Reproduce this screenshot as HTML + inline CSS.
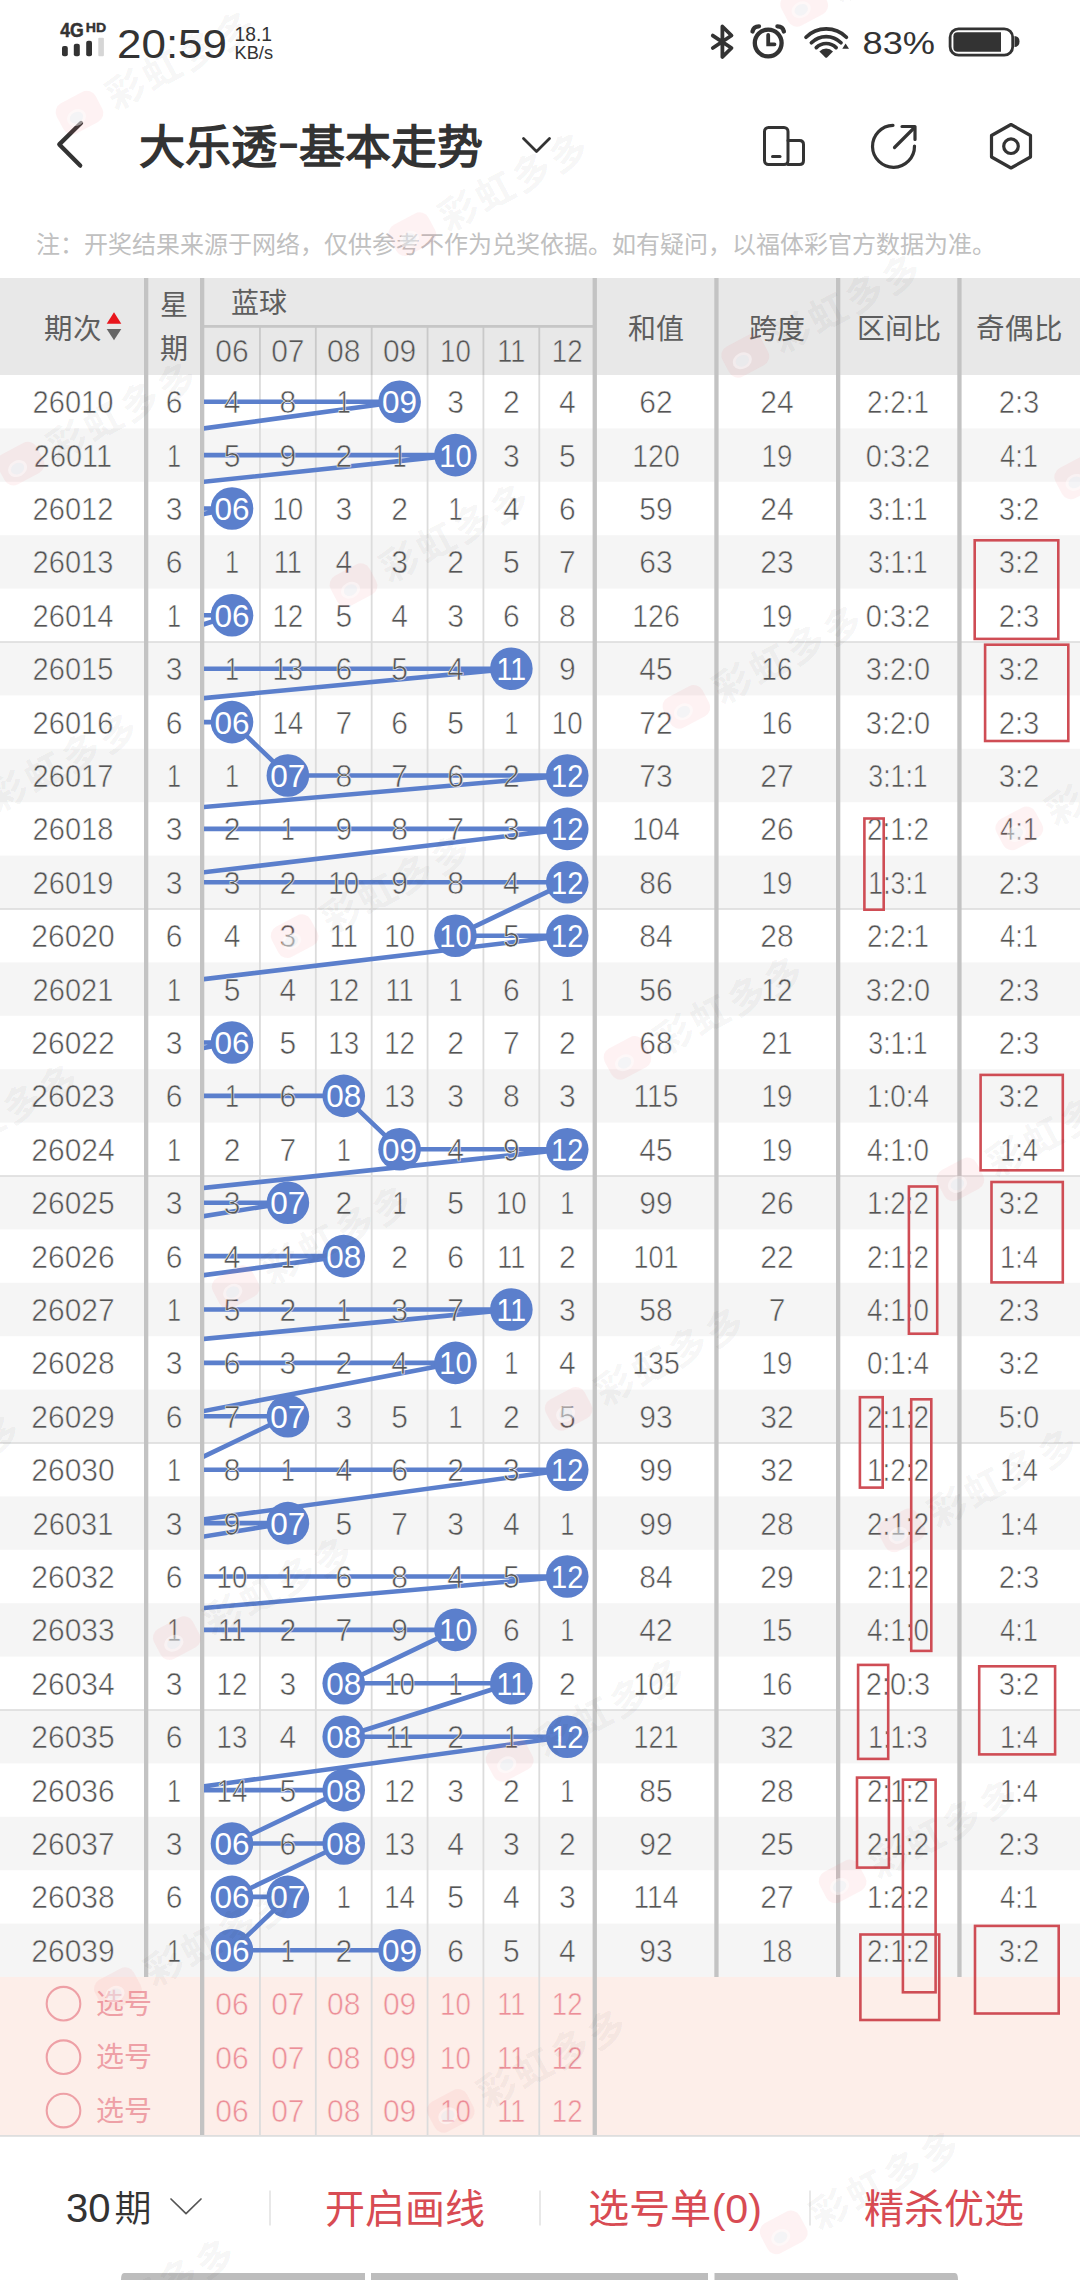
<!DOCTYPE html><html lang="zh-CN"><head><meta charset="utf-8"><title>大乐透-基本走势</title>
<style>html,body{margin:0;padding:0;background:#fff;width:1080px;height:2280px;overflow:hidden}svg{display:block} text{font-family:'Liberation Sans', sans-serif}</style></head><body>
<svg width="1080" height="2280" viewBox="0 0 1080 2280">
<defs><clipPath id="bc"><rect x="204" y="375" width="389" height="1602"/></clipPath></defs>
<g fill="#333">
<text x="60.3" y="36.5" font-size="20" font-weight="bold" textLength="23.5" lengthAdjust="spacingAndGlyphs" stroke="#333" stroke-width="0.5">4G</text>
<text x="85.8" y="31.6" font-size="13" font-weight="bold" textLength="20.4" lengthAdjust="spacingAndGlyphs" stroke="#333" stroke-width="0.4">HD</text>
<rect x="62" y="46" width="5.8" height="10.2" rx="2"/>
<rect x="73.8" y="43.7" width="6" height="12.5" rx="2"/>
<rect x="86.2" y="40.8" width="5.8" height="15.4" rx="2"/>
<rect x="98.3" y="37.7" width="5.6" height="18.6" rx="1" fill="#d6d6d6"/>
<text x="117" y="58.2" font-size="40.5" fill="#333" textLength="110" lengthAdjust="spacingAndGlyphs">20:59</text>
<text x="234.5" y="40.8" font-size="20" textLength="37.5" lengthAdjust="spacingAndGlyphs">18.1</text>
<text x="234.5" y="59.4" font-size="18.7" textLength="38.5" lengthAdjust="spacingAndGlyphs">KB/s</text>
<text x="862.5" y="54" font-size="31.5" textLength="72.5" lengthAdjust="spacingAndGlyphs">83%</text>
</g>
<path d="M712.8,35.6 L731.5,48 L722.4,57 L722.4,26.5 L731.5,35.5 L712.8,48" fill="none" stroke="#333" stroke-width="3.8" stroke-linejoin="round" stroke-linecap="round"/>
<g fill="none" stroke="#333" stroke-width="4.3" stroke-linecap="round"><circle cx="768.2" cy="43" r="13.4"/><path d="M768.2,35 L768.2,44.3 L774.5,44.3" stroke-width="3.8"/><path d="M752.5,31.5 Q753.5,26.3 759,26.3"/><path d="M783.9,31.5 Q782.9,26.3 777.4,26.3"/></g>
<g fill="none" stroke="#333" stroke-width="3.7" stroke-linecap="round"><path d="M806,37.3 A28.6,28.6 0 0 1 846.4,37.3"/><path d="M811.4,42.7 A21,21 0 0 1 841,42.7"/><path d="M816.3,47.6 A14,14 0 0 1 836.1,47.6"/></g><path d="M819.4,51.4 A9.4,9.4 0 0 1 833,51.4 L827.3,57.3 Q826.2,58.4 825.1,57.3 Z" fill="#333"/><path d="M842.3,48.8 L849,48.8 L845.6,43.6 Z" fill="#333"/>
<rect x="950.1" y="28.8" width="62.6" height="26.4" rx="8.5" fill="none" stroke="#333" stroke-width="2.8"/><path d="M957.5,32.2 L1001,32.2 L1001,51.8 L957.5,51.8 Q953.4,51.8 953.4,47.7 L953.4,36.3 Q953.4,32.2 957.5,32.2 Z" fill="#333"/><path d="M1014.5,36 Q1019.5,36.5 1019.5,41.5 Q1019.5,46.5 1014.5,47 Z" fill="#333"/>
<path d="M81,123 L59.3,144.4 L80.2,165.6" fill="none" stroke="#333" stroke-width="4.3" stroke-linecap="round" stroke-linejoin="round"/>
<g font-size="46" font-weight="bold" fill="#333" style="font-family:'Liberation Sans', 'Noto Sans CJK SC', sans-serif">
<text x="139" y="163">大乐透</text>
<text x="278.9" y="157.9" textLength="19" lengthAdjust="spacingAndGlyphs">–</text>
<text x="299" y="163">基本走势</text>
</g>
<path d="M523.5,138.5 L536.5,151.5 L549.5,138.5" fill="none" stroke="#333" stroke-width="2.8" stroke-linecap="round" stroke-linejoin="round"/>
<g fill="none" stroke="#333" stroke-width="3" stroke-linejoin="round" stroke-linecap="round"><rect x="764.5" y="127.5" width="23.5" height="37" rx="4"/><path d="M788,140.5 L799.5,140.5 Q803.5,140.5 803.5,144.5 L803.5,160.5 Q803.5,164.5 799.5,164.5 L788,164.5"/><path d="M772.5,156.5 L780,156.5"/></g>
<g fill="none" stroke="#333" stroke-width="3.2" stroke-linecap="round" stroke-linejoin="round"><path d="M914.5,146 A21,21 0 1 1 893,125.3"/><path d="M894.5,147.5 L914,128"/><path d="M902,126.5 L915,126.5 L915,139.5"/></g>
<g fill="none" stroke="#333" stroke-width="3.2" stroke-linejoin="round"><path d="M1011,124.5 L1030.5,135.5 L1030.5,157 L1011,168 L991.5,157 L991.5,135.5 Z"/><circle cx="1011" cy="146.2" r="7.3"/></g>
<text x="36" y="253" font-size="24" fill="#c0c0c0" style="font-family:'Liberation Sans', 'Noto Sans CJK SC', sans-serif">注：开奖结果来源于网络，仅供参考不作为兑奖依据。如有疑问，以福体彩官方数据为准。</text>
<rect x="0" y="278" width="1080" height="97" fill="#e8e8e8"/>
<rect x="0" y="428.4" width="1080" height="53.4" fill="#f5f5f5"/>
<rect x="0" y="535.2" width="1080" height="53.4" fill="#f5f5f5"/>
<rect x="0" y="642" width="1080" height="53.4" fill="#f5f5f5"/>
<rect x="0" y="748.8" width="1080" height="53.4" fill="#f5f5f5"/>
<rect x="0" y="855.6" width="1080" height="53.4" fill="#f5f5f5"/>
<rect x="0" y="962.4" width="1080" height="53.4" fill="#f5f5f5"/>
<rect x="0" y="1069.2" width="1080" height="53.4" fill="#f5f5f5"/>
<rect x="0" y="1176" width="1080" height="53.4" fill="#f5f5f5"/>
<rect x="0" y="1282.8" width="1080" height="53.4" fill="#f5f5f5"/>
<rect x="0" y="1389.6" width="1080" height="53.4" fill="#f5f5f5"/>
<rect x="0" y="1496.4" width="1080" height="53.4" fill="#f5f5f5"/>
<rect x="0" y="1603.2" width="1080" height="53.4" fill="#f5f5f5"/>
<rect x="0" y="1710" width="1080" height="53.4" fill="#f5f5f5"/>
<rect x="0" y="1816.8" width="1080" height="53.4" fill="#f5f5f5"/>
<rect x="0" y="1923.6" width="1080" height="53.4" fill="#f5f5f5"/>
<rect x="0" y="1977" width="1080" height="158" fill="#fdeee9"/>
<rect x="0" y="2135" width="1080" height="1.8" fill="#dedede"/>
<rect x="0" y="641.2" width="1080" height="1.6" fill="#dcdcdc"/>
<rect x="0" y="908.2" width="1080" height="1.6" fill="#dcdcdc"/>
<rect x="0" y="1175.2" width="1080" height="1.6" fill="#dcdcdc"/>
<rect x="0" y="1442.2" width="1080" height="1.6" fill="#dcdcdc"/>
<rect x="0" y="1709.2" width="1080" height="1.6" fill="#dcdcdc"/>
<rect x="259.04" y="326" width="1.8" height="49" fill="#c9c9c9"/>
<rect x="259.04" y="375" width="1.8" height="1760" fill="#dcdcdc"/>
<rect x="314.91" y="326" width="1.8" height="49" fill="#c9c9c9"/>
<rect x="314.91" y="375" width="1.8" height="1760" fill="#dcdcdc"/>
<rect x="370.78" y="326" width="1.8" height="49" fill="#c9c9c9"/>
<rect x="370.78" y="375" width="1.8" height="1760" fill="#dcdcdc"/>
<rect x="426.65" y="326" width="1.8" height="49" fill="#c9c9c9"/>
<rect x="426.65" y="375" width="1.8" height="1760" fill="#dcdcdc"/>
<rect x="482.52" y="326" width="1.8" height="49" fill="#c9c9c9"/>
<rect x="482.52" y="375" width="1.8" height="1760" fill="#dcdcdc"/>
<rect x="538.38" y="326" width="1.8" height="49" fill="#c9c9c9"/>
<rect x="538.38" y="375" width="1.8" height="1760" fill="#dcdcdc"/>
<rect x="204" y="325" width="389" height="2.8" fill="#c6c6c6"/>
<rect x="144" y="278" width="4.3" height="1699" fill="#c3c3c3"/>
<rect x="200" y="278" width="4.3" height="1857" fill="#c3c3c3"/>
<rect x="592.6" y="278" width="4.3" height="1857" fill="#c3c3c3"/>
<rect x="714.3" y="278" width="4.3" height="1699" fill="#c3c3c3"/>
<rect x="836" y="278" width="4.3" height="1699" fill="#c3c3c3"/>
<rect x="957.3" y="278" width="4.3" height="1699" fill="#c3c3c3"/>
<g fill="#5e5e5e" font-size="28" style="font-family:'Liberation Sans', 'Noto Sans CJK SC', sans-serif">
<text x="44" y="338.5" font-size="28.5">期次</text>
<text x="160" y="315.3">星</text>
<text x="159.5" y="359.3">期</text>
<text x="231" y="313">蓝球</text>
<text x="655.5" y="339" text-anchor="middle">和值</text>
<text x="777" y="339" text-anchor="middle">跨度</text>
<text x="898.5" y="339" text-anchor="middle">区间比</text>
<text x="1019" y="339" text-anchor="middle" font-size="28.5">奇偶比</text>
</g>
<path d="M114,312.3 L121.3,323.7 L106.7,323.7 Z" fill="#e8151c"/>
<path d="M106.7,329.1 L121.3,329.1 L114,340.3 Z" fill="#666"/>
<g fill="#555555" font-size="32" text-anchor="middle" stroke="#e8e8e8" stroke-width="0.6">
<text x="232" y="362.3" textLength="33.37" lengthAdjust="spacingAndGlyphs">06</text>
<text x="287.87" y="362.3" textLength="33.37" lengthAdjust="spacingAndGlyphs">07</text>
<text x="343.74" y="362.3" textLength="33.37" lengthAdjust="spacingAndGlyphs">08</text>
<text x="399.61" y="362.3" textLength="33.37" lengthAdjust="spacingAndGlyphs">09</text>
<text x="455.48" y="362.3" textLength="30.79" lengthAdjust="spacingAndGlyphs">10</text>
<text x="511.35" y="362.3" textLength="28.2" lengthAdjust="spacingAndGlyphs">11</text>
<text x="567.22" y="362.3" textLength="30.79" lengthAdjust="spacingAndGlyphs">12</text>
</g>
<g clip-path="url(#bc)"><polyline fill="none" stroke="#5b7fcc" stroke-width="4.6" stroke-linejoin="round" points="64.39,401.7 399.61,401.7 8.52,455.1 455.48,455.1 -47.35,508.5 232,508.5 -47.35,561.9 120.26,561.9 8.52,615.3 232,615.3 64.39,668.7 511.35,668.7 -47.35,722.1 232,722.1 287.87,775.5 567.22,775.5 -47.35,828.9 567.22,828.9 120.26,882.3 567.22,882.3 455.48,935.7 567.22,935.7 120.26,989.1 176.13,989.1 8.52,1042.5 232,1042.5 -47.35,1095.9 343.74,1095.9 399.61,1149.3 567.22,1149.3 64.39,1202.7 287.87,1202.7 -47.35,1256.1 343.74,1256.1 -47.35,1309.5 511.35,1309.5 -47.35,1362.9 455.48,1362.9 176.13,1416.3 287.87,1416.3 176.13,1469.7 567.22,1469.7 176.13,1523.1 287.87,1523.1 -47.35,1576.5 567.22,1576.5 -47.35,1629.9 455.48,1629.9 343.74,1683.3 511.35,1683.3 343.74,1736.7 567.22,1736.7 176.13,1790.1 343.74,1790.1 232,1843.5 343.74,1843.5 232,1896.9 287.87,1896.9 232,1950.3 399.61,1950.3"/></g>
<g fill="#555555" font-size="32" text-anchor="middle" stroke-width="0.6">
<g stroke="#ffffff">
<text x="73" y="413.1" textLength="80.84" lengthAdjust="spacingAndGlyphs">26010</text>
<text x="174" y="413.1" textLength="16.69" lengthAdjust="spacingAndGlyphs">6</text>
<text x="232" y="413.1" textLength="16.69" lengthAdjust="spacingAndGlyphs">4</text>
<text x="287.87" y="413.1" textLength="16.69" lengthAdjust="spacingAndGlyphs">8</text>
<text x="343.74" y="413.1" textLength="14.1" lengthAdjust="spacingAndGlyphs">1</text>
<text x="455.48" y="413.1" textLength="16.69" lengthAdjust="spacingAndGlyphs">3</text>
<text x="511.35" y="413.1" textLength="16.69" lengthAdjust="spacingAndGlyphs">2</text>
<text x="567.22" y="413.1" textLength="16.69" lengthAdjust="spacingAndGlyphs">4</text>
<text x="656" y="413.1" textLength="33.37" lengthAdjust="spacingAndGlyphs">62</text>
<text x="777" y="413.1" textLength="33.37" lengthAdjust="spacingAndGlyphs">24</text>
<text x="898" y="413.1" textLength="61.87" lengthAdjust="spacingAndGlyphs">2:2:1</text>
<text x="1019" y="413.1" textLength="40.57" lengthAdjust="spacingAndGlyphs">2:3</text>
</g>
<g stroke="#f5f5f5">
<text x="73" y="466.5" textLength="78.26" lengthAdjust="spacingAndGlyphs">26011</text>
<text x="174" y="466.5" textLength="14.1" lengthAdjust="spacingAndGlyphs">1</text>
<text x="232" y="466.5" textLength="16.69" lengthAdjust="spacingAndGlyphs">5</text>
<text x="287.87" y="466.5" textLength="16.69" lengthAdjust="spacingAndGlyphs">9</text>
<text x="343.74" y="466.5" textLength="16.69" lengthAdjust="spacingAndGlyphs">2</text>
<text x="399.61" y="466.5" textLength="14.1" lengthAdjust="spacingAndGlyphs">1</text>
<text x="511.35" y="466.5" textLength="16.69" lengthAdjust="spacingAndGlyphs">3</text>
<text x="567.22" y="466.5" textLength="16.69" lengthAdjust="spacingAndGlyphs">5</text>
<text x="656" y="466.5" textLength="47.47" lengthAdjust="spacingAndGlyphs">120</text>
<text x="777" y="466.5" textLength="30.79" lengthAdjust="spacingAndGlyphs">19</text>
<text x="898" y="466.5" textLength="64.46" lengthAdjust="spacingAndGlyphs">0:3:2</text>
<text x="1019" y="466.5" textLength="37.99" lengthAdjust="spacingAndGlyphs">4:1</text>
</g>
<g stroke="#ffffff">
<text x="73" y="519.9" textLength="80.84" lengthAdjust="spacingAndGlyphs">26012</text>
<text x="174" y="519.9" textLength="16.69" lengthAdjust="spacingAndGlyphs">3</text>
<text x="287.87" y="519.9" textLength="30.79" lengthAdjust="spacingAndGlyphs">10</text>
<text x="343.74" y="519.9" textLength="16.69" lengthAdjust="spacingAndGlyphs">3</text>
<text x="399.61" y="519.9" textLength="16.69" lengthAdjust="spacingAndGlyphs">2</text>
<text x="455.48" y="519.9" textLength="14.1" lengthAdjust="spacingAndGlyphs">1</text>
<text x="511.35" y="519.9" textLength="16.69" lengthAdjust="spacingAndGlyphs">4</text>
<text x="567.22" y="519.9" textLength="16.69" lengthAdjust="spacingAndGlyphs">6</text>
<text x="656" y="519.9" textLength="33.37" lengthAdjust="spacingAndGlyphs">59</text>
<text x="777" y="519.9" textLength="33.37" lengthAdjust="spacingAndGlyphs">24</text>
<text x="898" y="519.9" textLength="59.29" lengthAdjust="spacingAndGlyphs">3:1:1</text>
<text x="1019" y="519.9" textLength="40.57" lengthAdjust="spacingAndGlyphs">3:2</text>
</g>
<g stroke="#f5f5f5">
<text x="73" y="573.3" textLength="80.84" lengthAdjust="spacingAndGlyphs">26013</text>
<text x="174" y="573.3" textLength="16.69" lengthAdjust="spacingAndGlyphs">6</text>
<text x="232" y="573.3" textLength="14.1" lengthAdjust="spacingAndGlyphs">1</text>
<text x="287.87" y="573.3" textLength="28.2" lengthAdjust="spacingAndGlyphs">11</text>
<text x="343.74" y="573.3" textLength="16.69" lengthAdjust="spacingAndGlyphs">4</text>
<text x="399.61" y="573.3" textLength="16.69" lengthAdjust="spacingAndGlyphs">3</text>
<text x="455.48" y="573.3" textLength="16.69" lengthAdjust="spacingAndGlyphs">2</text>
<text x="511.35" y="573.3" textLength="16.69" lengthAdjust="spacingAndGlyphs">5</text>
<text x="567.22" y="573.3" textLength="16.69" lengthAdjust="spacingAndGlyphs">7</text>
<text x="656" y="573.3" textLength="33.37" lengthAdjust="spacingAndGlyphs">63</text>
<text x="777" y="573.3" textLength="33.37" lengthAdjust="spacingAndGlyphs">23</text>
<text x="898" y="573.3" textLength="59.29" lengthAdjust="spacingAndGlyphs">3:1:1</text>
<text x="1019" y="573.3" textLength="40.57" lengthAdjust="spacingAndGlyphs">3:2</text>
</g>
<g stroke="#ffffff">
<text x="73" y="626.7" textLength="80.84" lengthAdjust="spacingAndGlyphs">26014</text>
<text x="174" y="626.7" textLength="14.1" lengthAdjust="spacingAndGlyphs">1</text>
<text x="287.87" y="626.7" textLength="30.79" lengthAdjust="spacingAndGlyphs">12</text>
<text x="343.74" y="626.7" textLength="16.69" lengthAdjust="spacingAndGlyphs">5</text>
<text x="399.61" y="626.7" textLength="16.69" lengthAdjust="spacingAndGlyphs">4</text>
<text x="455.48" y="626.7" textLength="16.69" lengthAdjust="spacingAndGlyphs">3</text>
<text x="511.35" y="626.7" textLength="16.69" lengthAdjust="spacingAndGlyphs">6</text>
<text x="567.22" y="626.7" textLength="16.69" lengthAdjust="spacingAndGlyphs">8</text>
<text x="656" y="626.7" textLength="47.47" lengthAdjust="spacingAndGlyphs">126</text>
<text x="777" y="626.7" textLength="30.79" lengthAdjust="spacingAndGlyphs">19</text>
<text x="898" y="626.7" textLength="64.46" lengthAdjust="spacingAndGlyphs">0:3:2</text>
<text x="1019" y="626.7" textLength="40.57" lengthAdjust="spacingAndGlyphs">2:3</text>
</g>
<g stroke="#f5f5f5">
<text x="73" y="680.1" textLength="80.84" lengthAdjust="spacingAndGlyphs">26015</text>
<text x="174" y="680.1" textLength="16.69" lengthAdjust="spacingAndGlyphs">3</text>
<text x="232" y="680.1" textLength="14.1" lengthAdjust="spacingAndGlyphs">1</text>
<text x="287.87" y="680.1" textLength="30.79" lengthAdjust="spacingAndGlyphs">13</text>
<text x="343.74" y="680.1" textLength="16.69" lengthAdjust="spacingAndGlyphs">6</text>
<text x="399.61" y="680.1" textLength="16.69" lengthAdjust="spacingAndGlyphs">5</text>
<text x="455.48" y="680.1" textLength="16.69" lengthAdjust="spacingAndGlyphs">4</text>
<text x="567.22" y="680.1" textLength="16.69" lengthAdjust="spacingAndGlyphs">9</text>
<text x="656" y="680.1" textLength="33.37" lengthAdjust="spacingAndGlyphs">45</text>
<text x="777" y="680.1" textLength="30.79" lengthAdjust="spacingAndGlyphs">16</text>
<text x="898" y="680.1" textLength="64.46" lengthAdjust="spacingAndGlyphs">3:2:0</text>
<text x="1019" y="680.1" textLength="40.57" lengthAdjust="spacingAndGlyphs">3:2</text>
</g>
<g stroke="#ffffff">
<text x="73" y="733.5" textLength="80.84" lengthAdjust="spacingAndGlyphs">26016</text>
<text x="174" y="733.5" textLength="16.69" lengthAdjust="spacingAndGlyphs">6</text>
<text x="287.87" y="733.5" textLength="30.79" lengthAdjust="spacingAndGlyphs">14</text>
<text x="343.74" y="733.5" textLength="16.69" lengthAdjust="spacingAndGlyphs">7</text>
<text x="399.61" y="733.5" textLength="16.69" lengthAdjust="spacingAndGlyphs">6</text>
<text x="455.48" y="733.5" textLength="16.69" lengthAdjust="spacingAndGlyphs">5</text>
<text x="511.35" y="733.5" textLength="14.1" lengthAdjust="spacingAndGlyphs">1</text>
<text x="567.22" y="733.5" textLength="30.79" lengthAdjust="spacingAndGlyphs">10</text>
<text x="656" y="733.5" textLength="33.37" lengthAdjust="spacingAndGlyphs">72</text>
<text x="777" y="733.5" textLength="30.79" lengthAdjust="spacingAndGlyphs">16</text>
<text x="898" y="733.5" textLength="64.46" lengthAdjust="spacingAndGlyphs">3:2:0</text>
<text x="1019" y="733.5" textLength="40.57" lengthAdjust="spacingAndGlyphs">2:3</text>
</g>
<g stroke="#f5f5f5">
<text x="73" y="786.9" textLength="80.84" lengthAdjust="spacingAndGlyphs">26017</text>
<text x="174" y="786.9" textLength="14.1" lengthAdjust="spacingAndGlyphs">1</text>
<text x="232" y="786.9" textLength="14.1" lengthAdjust="spacingAndGlyphs">1</text>
<text x="343.74" y="786.9" textLength="16.69" lengthAdjust="spacingAndGlyphs">8</text>
<text x="399.61" y="786.9" textLength="16.69" lengthAdjust="spacingAndGlyphs">7</text>
<text x="455.48" y="786.9" textLength="16.69" lengthAdjust="spacingAndGlyphs">6</text>
<text x="511.35" y="786.9" textLength="16.69" lengthAdjust="spacingAndGlyphs">2</text>
<text x="656" y="786.9" textLength="33.37" lengthAdjust="spacingAndGlyphs">73</text>
<text x="777" y="786.9" textLength="33.37" lengthAdjust="spacingAndGlyphs">27</text>
<text x="898" y="786.9" textLength="59.29" lengthAdjust="spacingAndGlyphs">3:1:1</text>
<text x="1019" y="786.9" textLength="40.57" lengthAdjust="spacingAndGlyphs">3:2</text>
</g>
<g stroke="#ffffff">
<text x="73" y="840.3" textLength="80.84" lengthAdjust="spacingAndGlyphs">26018</text>
<text x="174" y="840.3" textLength="16.69" lengthAdjust="spacingAndGlyphs">3</text>
<text x="232" y="840.3" textLength="16.69" lengthAdjust="spacingAndGlyphs">2</text>
<text x="287.87" y="840.3" textLength="14.1" lengthAdjust="spacingAndGlyphs">1</text>
<text x="343.74" y="840.3" textLength="16.69" lengthAdjust="spacingAndGlyphs">9</text>
<text x="399.61" y="840.3" textLength="16.69" lengthAdjust="spacingAndGlyphs">8</text>
<text x="455.48" y="840.3" textLength="16.69" lengthAdjust="spacingAndGlyphs">7</text>
<text x="511.35" y="840.3" textLength="16.69" lengthAdjust="spacingAndGlyphs">3</text>
<text x="656" y="840.3" textLength="47.47" lengthAdjust="spacingAndGlyphs">104</text>
<text x="777" y="840.3" textLength="33.37" lengthAdjust="spacingAndGlyphs">26</text>
<text x="898" y="840.3" textLength="61.87" lengthAdjust="spacingAndGlyphs">2:1:2</text>
<text x="1019" y="840.3" textLength="37.99" lengthAdjust="spacingAndGlyphs">4:1</text>
</g>
<g stroke="#f5f5f5">
<text x="73" y="893.7" textLength="80.84" lengthAdjust="spacingAndGlyphs">26019</text>
<text x="174" y="893.7" textLength="16.69" lengthAdjust="spacingAndGlyphs">3</text>
<text x="232" y="893.7" textLength="16.69" lengthAdjust="spacingAndGlyphs">3</text>
<text x="287.87" y="893.7" textLength="16.69" lengthAdjust="spacingAndGlyphs">2</text>
<text x="343.74" y="893.7" textLength="30.79" lengthAdjust="spacingAndGlyphs">10</text>
<text x="399.61" y="893.7" textLength="16.69" lengthAdjust="spacingAndGlyphs">9</text>
<text x="455.48" y="893.7" textLength="16.69" lengthAdjust="spacingAndGlyphs">8</text>
<text x="511.35" y="893.7" textLength="16.69" lengthAdjust="spacingAndGlyphs">4</text>
<text x="656" y="893.7" textLength="33.37" lengthAdjust="spacingAndGlyphs">86</text>
<text x="777" y="893.7" textLength="30.79" lengthAdjust="spacingAndGlyphs">19</text>
<text x="898" y="893.7" textLength="59.29" lengthAdjust="spacingAndGlyphs">1:3:1</text>
<text x="1019" y="893.7" textLength="40.57" lengthAdjust="spacingAndGlyphs">2:3</text>
</g>
<g stroke="#ffffff">
<text x="73" y="947.1" textLength="83.43" lengthAdjust="spacingAndGlyphs">26020</text>
<text x="174" y="947.1" textLength="16.69" lengthAdjust="spacingAndGlyphs">6</text>
<text x="232" y="947.1" textLength="16.69" lengthAdjust="spacingAndGlyphs">4</text>
<text x="287.87" y="947.1" textLength="16.69" lengthAdjust="spacingAndGlyphs">3</text>
<text x="343.74" y="947.1" textLength="28.2" lengthAdjust="spacingAndGlyphs">11</text>
<text x="399.61" y="947.1" textLength="30.79" lengthAdjust="spacingAndGlyphs">10</text>
<text x="511.35" y="947.1" textLength="16.69" lengthAdjust="spacingAndGlyphs">5</text>
<text x="656" y="947.1" textLength="33.37" lengthAdjust="spacingAndGlyphs">84</text>
<text x="777" y="947.1" textLength="33.37" lengthAdjust="spacingAndGlyphs">28</text>
<text x="898" y="947.1" textLength="61.87" lengthAdjust="spacingAndGlyphs">2:2:1</text>
<text x="1019" y="947.1" textLength="37.99" lengthAdjust="spacingAndGlyphs">4:1</text>
</g>
<g stroke="#f5f5f5">
<text x="73" y="1000.5" textLength="80.84" lengthAdjust="spacingAndGlyphs">26021</text>
<text x="174" y="1000.5" textLength="14.1" lengthAdjust="spacingAndGlyphs">1</text>
<text x="232" y="1000.5" textLength="16.69" lengthAdjust="spacingAndGlyphs">5</text>
<text x="287.87" y="1000.5" textLength="16.69" lengthAdjust="spacingAndGlyphs">4</text>
<text x="343.74" y="1000.5" textLength="30.79" lengthAdjust="spacingAndGlyphs">12</text>
<text x="399.61" y="1000.5" textLength="28.2" lengthAdjust="spacingAndGlyphs">11</text>
<text x="455.48" y="1000.5" textLength="14.1" lengthAdjust="spacingAndGlyphs">1</text>
<text x="511.35" y="1000.5" textLength="16.69" lengthAdjust="spacingAndGlyphs">6</text>
<text x="567.22" y="1000.5" textLength="14.1" lengthAdjust="spacingAndGlyphs">1</text>
<text x="656" y="1000.5" textLength="33.37" lengthAdjust="spacingAndGlyphs">56</text>
<text x="777" y="1000.5" textLength="30.79" lengthAdjust="spacingAndGlyphs">12</text>
<text x="898" y="1000.5" textLength="64.46" lengthAdjust="spacingAndGlyphs">3:2:0</text>
<text x="1019" y="1000.5" textLength="40.57" lengthAdjust="spacingAndGlyphs">2:3</text>
</g>
<g stroke="#ffffff">
<text x="73" y="1053.9" textLength="83.43" lengthAdjust="spacingAndGlyphs">26022</text>
<text x="174" y="1053.9" textLength="16.69" lengthAdjust="spacingAndGlyphs">3</text>
<text x="287.87" y="1053.9" textLength="16.69" lengthAdjust="spacingAndGlyphs">5</text>
<text x="343.74" y="1053.9" textLength="30.79" lengthAdjust="spacingAndGlyphs">13</text>
<text x="399.61" y="1053.9" textLength="30.79" lengthAdjust="spacingAndGlyphs">12</text>
<text x="455.48" y="1053.9" textLength="16.69" lengthAdjust="spacingAndGlyphs">2</text>
<text x="511.35" y="1053.9" textLength="16.69" lengthAdjust="spacingAndGlyphs">7</text>
<text x="567.22" y="1053.9" textLength="16.69" lengthAdjust="spacingAndGlyphs">2</text>
<text x="656" y="1053.9" textLength="33.37" lengthAdjust="spacingAndGlyphs">68</text>
<text x="777" y="1053.9" textLength="30.79" lengthAdjust="spacingAndGlyphs">21</text>
<text x="898" y="1053.9" textLength="59.29" lengthAdjust="spacingAndGlyphs">3:1:1</text>
<text x="1019" y="1053.9" textLength="40.57" lengthAdjust="spacingAndGlyphs">2:3</text>
</g>
<g stroke="#f5f5f5">
<text x="73" y="1107.3" textLength="83.43" lengthAdjust="spacingAndGlyphs">26023</text>
<text x="174" y="1107.3" textLength="16.69" lengthAdjust="spacingAndGlyphs">6</text>
<text x="232" y="1107.3" textLength="14.1" lengthAdjust="spacingAndGlyphs">1</text>
<text x="287.87" y="1107.3" textLength="16.69" lengthAdjust="spacingAndGlyphs">6</text>
<text x="399.61" y="1107.3" textLength="30.79" lengthAdjust="spacingAndGlyphs">13</text>
<text x="455.48" y="1107.3" textLength="16.69" lengthAdjust="spacingAndGlyphs">3</text>
<text x="511.35" y="1107.3" textLength="16.69" lengthAdjust="spacingAndGlyphs">8</text>
<text x="567.22" y="1107.3" textLength="16.69" lengthAdjust="spacingAndGlyphs">3</text>
<text x="656" y="1107.3" textLength="44.89" lengthAdjust="spacingAndGlyphs">115</text>
<text x="777" y="1107.3" textLength="30.79" lengthAdjust="spacingAndGlyphs">19</text>
<text x="898" y="1107.3" textLength="61.87" lengthAdjust="spacingAndGlyphs">1:0:4</text>
<text x="1019" y="1107.3" textLength="40.57" lengthAdjust="spacingAndGlyphs">3:2</text>
</g>
<g stroke="#ffffff">
<text x="73" y="1160.7" textLength="83.43" lengthAdjust="spacingAndGlyphs">26024</text>
<text x="174" y="1160.7" textLength="14.1" lengthAdjust="spacingAndGlyphs">1</text>
<text x="232" y="1160.7" textLength="16.69" lengthAdjust="spacingAndGlyphs">2</text>
<text x="287.87" y="1160.7" textLength="16.69" lengthAdjust="spacingAndGlyphs">7</text>
<text x="343.74" y="1160.7" textLength="14.1" lengthAdjust="spacingAndGlyphs">1</text>
<text x="455.48" y="1160.7" textLength="16.69" lengthAdjust="spacingAndGlyphs">4</text>
<text x="511.35" y="1160.7" textLength="16.69" lengthAdjust="spacingAndGlyphs">9</text>
<text x="656" y="1160.7" textLength="33.37" lengthAdjust="spacingAndGlyphs">45</text>
<text x="777" y="1160.7" textLength="30.79" lengthAdjust="spacingAndGlyphs">19</text>
<text x="898" y="1160.7" textLength="61.87" lengthAdjust="spacingAndGlyphs">4:1:0</text>
<text x="1019" y="1160.7" textLength="37.99" lengthAdjust="spacingAndGlyphs">1:4</text>
</g>
<g stroke="#f5f5f5">
<text x="73" y="1214.1" textLength="83.43" lengthAdjust="spacingAndGlyphs">26025</text>
<text x="174" y="1214.1" textLength="16.69" lengthAdjust="spacingAndGlyphs">3</text>
<text x="232" y="1214.1" textLength="16.69" lengthAdjust="spacingAndGlyphs">3</text>
<text x="343.74" y="1214.1" textLength="16.69" lengthAdjust="spacingAndGlyphs">2</text>
<text x="399.61" y="1214.1" textLength="14.1" lengthAdjust="spacingAndGlyphs">1</text>
<text x="455.48" y="1214.1" textLength="16.69" lengthAdjust="spacingAndGlyphs">5</text>
<text x="511.35" y="1214.1" textLength="30.79" lengthAdjust="spacingAndGlyphs">10</text>
<text x="567.22" y="1214.1" textLength="14.1" lengthAdjust="spacingAndGlyphs">1</text>
<text x="656" y="1214.1" textLength="33.37" lengthAdjust="spacingAndGlyphs">99</text>
<text x="777" y="1214.1" textLength="33.37" lengthAdjust="spacingAndGlyphs">26</text>
<text x="898" y="1214.1" textLength="61.87" lengthAdjust="spacingAndGlyphs">1:2:2</text>
<text x="1019" y="1214.1" textLength="40.57" lengthAdjust="spacingAndGlyphs">3:2</text>
</g>
<g stroke="#ffffff">
<text x="73" y="1267.5" textLength="83.43" lengthAdjust="spacingAndGlyphs">26026</text>
<text x="174" y="1267.5" textLength="16.69" lengthAdjust="spacingAndGlyphs">6</text>
<text x="232" y="1267.5" textLength="16.69" lengthAdjust="spacingAndGlyphs">4</text>
<text x="287.87" y="1267.5" textLength="14.1" lengthAdjust="spacingAndGlyphs">1</text>
<text x="399.61" y="1267.5" textLength="16.69" lengthAdjust="spacingAndGlyphs">2</text>
<text x="455.48" y="1267.5" textLength="16.69" lengthAdjust="spacingAndGlyphs">6</text>
<text x="511.35" y="1267.5" textLength="28.2" lengthAdjust="spacingAndGlyphs">11</text>
<text x="567.22" y="1267.5" textLength="16.69" lengthAdjust="spacingAndGlyphs">2</text>
<text x="656" y="1267.5" textLength="44.89" lengthAdjust="spacingAndGlyphs">101</text>
<text x="777" y="1267.5" textLength="33.37" lengthAdjust="spacingAndGlyphs">22</text>
<text x="898" y="1267.5" textLength="61.87" lengthAdjust="spacingAndGlyphs">2:1:2</text>
<text x="1019" y="1267.5" textLength="37.99" lengthAdjust="spacingAndGlyphs">1:4</text>
</g>
<g stroke="#f5f5f5">
<text x="73" y="1320.9" textLength="83.43" lengthAdjust="spacingAndGlyphs">26027</text>
<text x="174" y="1320.9" textLength="14.1" lengthAdjust="spacingAndGlyphs">1</text>
<text x="232" y="1320.9" textLength="16.69" lengthAdjust="spacingAndGlyphs">5</text>
<text x="287.87" y="1320.9" textLength="16.69" lengthAdjust="spacingAndGlyphs">2</text>
<text x="343.74" y="1320.9" textLength="14.1" lengthAdjust="spacingAndGlyphs">1</text>
<text x="399.61" y="1320.9" textLength="16.69" lengthAdjust="spacingAndGlyphs">3</text>
<text x="455.48" y="1320.9" textLength="16.69" lengthAdjust="spacingAndGlyphs">7</text>
<text x="567.22" y="1320.9" textLength="16.69" lengthAdjust="spacingAndGlyphs">3</text>
<text x="656" y="1320.9" textLength="33.37" lengthAdjust="spacingAndGlyphs">58</text>
<text x="777" y="1320.9" textLength="16.69" lengthAdjust="spacingAndGlyphs">7</text>
<text x="898" y="1320.9" textLength="61.87" lengthAdjust="spacingAndGlyphs">4:1:0</text>
<text x="1019" y="1320.9" textLength="40.57" lengthAdjust="spacingAndGlyphs">2:3</text>
</g>
<g stroke="#ffffff">
<text x="73" y="1374.3" textLength="83.43" lengthAdjust="spacingAndGlyphs">26028</text>
<text x="174" y="1374.3" textLength="16.69" lengthAdjust="spacingAndGlyphs">3</text>
<text x="232" y="1374.3" textLength="16.69" lengthAdjust="spacingAndGlyphs">6</text>
<text x="287.87" y="1374.3" textLength="16.69" lengthAdjust="spacingAndGlyphs">3</text>
<text x="343.74" y="1374.3" textLength="16.69" lengthAdjust="spacingAndGlyphs">2</text>
<text x="399.61" y="1374.3" textLength="16.69" lengthAdjust="spacingAndGlyphs">4</text>
<text x="511.35" y="1374.3" textLength="14.1" lengthAdjust="spacingAndGlyphs">1</text>
<text x="567.22" y="1374.3" textLength="16.69" lengthAdjust="spacingAndGlyphs">4</text>
<text x="656" y="1374.3" textLength="47.47" lengthAdjust="spacingAndGlyphs">135</text>
<text x="777" y="1374.3" textLength="30.79" lengthAdjust="spacingAndGlyphs">19</text>
<text x="898" y="1374.3" textLength="61.87" lengthAdjust="spacingAndGlyphs">0:1:4</text>
<text x="1019" y="1374.3" textLength="40.57" lengthAdjust="spacingAndGlyphs">3:2</text>
</g>
<g stroke="#f5f5f5">
<text x="73" y="1427.7" textLength="83.43" lengthAdjust="spacingAndGlyphs">26029</text>
<text x="174" y="1427.7" textLength="16.69" lengthAdjust="spacingAndGlyphs">6</text>
<text x="232" y="1427.7" textLength="16.69" lengthAdjust="spacingAndGlyphs">7</text>
<text x="343.74" y="1427.7" textLength="16.69" lengthAdjust="spacingAndGlyphs">3</text>
<text x="399.61" y="1427.7" textLength="16.69" lengthAdjust="spacingAndGlyphs">5</text>
<text x="455.48" y="1427.7" textLength="14.1" lengthAdjust="spacingAndGlyphs">1</text>
<text x="511.35" y="1427.7" textLength="16.69" lengthAdjust="spacingAndGlyphs">2</text>
<text x="567.22" y="1427.7" textLength="16.69" lengthAdjust="spacingAndGlyphs">5</text>
<text x="656" y="1427.7" textLength="33.37" lengthAdjust="spacingAndGlyphs">93</text>
<text x="777" y="1427.7" textLength="33.37" lengthAdjust="spacingAndGlyphs">32</text>
<text x="898" y="1427.7" textLength="61.87" lengthAdjust="spacingAndGlyphs">2:1:2</text>
<text x="1019" y="1427.7" textLength="40.57" lengthAdjust="spacingAndGlyphs">5:0</text>
</g>
<g stroke="#ffffff">
<text x="73" y="1481.1" textLength="83.43" lengthAdjust="spacingAndGlyphs">26030</text>
<text x="174" y="1481.1" textLength="14.1" lengthAdjust="spacingAndGlyphs">1</text>
<text x="232" y="1481.1" textLength="16.69" lengthAdjust="spacingAndGlyphs">8</text>
<text x="287.87" y="1481.1" textLength="14.1" lengthAdjust="spacingAndGlyphs">1</text>
<text x="343.74" y="1481.1" textLength="16.69" lengthAdjust="spacingAndGlyphs">4</text>
<text x="399.61" y="1481.1" textLength="16.69" lengthAdjust="spacingAndGlyphs">6</text>
<text x="455.48" y="1481.1" textLength="16.69" lengthAdjust="spacingAndGlyphs">2</text>
<text x="511.35" y="1481.1" textLength="16.69" lengthAdjust="spacingAndGlyphs">3</text>
<text x="656" y="1481.1" textLength="33.37" lengthAdjust="spacingAndGlyphs">99</text>
<text x="777" y="1481.1" textLength="33.37" lengthAdjust="spacingAndGlyphs">32</text>
<text x="898" y="1481.1" textLength="61.87" lengthAdjust="spacingAndGlyphs">1:2:2</text>
<text x="1019" y="1481.1" textLength="37.99" lengthAdjust="spacingAndGlyphs">1:4</text>
</g>
<g stroke="#f5f5f5">
<text x="73" y="1534.5" textLength="80.84" lengthAdjust="spacingAndGlyphs">26031</text>
<text x="174" y="1534.5" textLength="16.69" lengthAdjust="spacingAndGlyphs">3</text>
<text x="232" y="1534.5" textLength="16.69" lengthAdjust="spacingAndGlyphs">9</text>
<text x="343.74" y="1534.5" textLength="16.69" lengthAdjust="spacingAndGlyphs">5</text>
<text x="399.61" y="1534.5" textLength="16.69" lengthAdjust="spacingAndGlyphs">7</text>
<text x="455.48" y="1534.5" textLength="16.69" lengthAdjust="spacingAndGlyphs">3</text>
<text x="511.35" y="1534.5" textLength="16.69" lengthAdjust="spacingAndGlyphs">4</text>
<text x="567.22" y="1534.5" textLength="14.1" lengthAdjust="spacingAndGlyphs">1</text>
<text x="656" y="1534.5" textLength="33.37" lengthAdjust="spacingAndGlyphs">99</text>
<text x="777" y="1534.5" textLength="33.37" lengthAdjust="spacingAndGlyphs">28</text>
<text x="898" y="1534.5" textLength="61.87" lengthAdjust="spacingAndGlyphs">2:1:2</text>
<text x="1019" y="1534.5" textLength="37.99" lengthAdjust="spacingAndGlyphs">1:4</text>
</g>
<g stroke="#ffffff">
<text x="73" y="1587.9" textLength="83.43" lengthAdjust="spacingAndGlyphs">26032</text>
<text x="174" y="1587.9" textLength="16.69" lengthAdjust="spacingAndGlyphs">6</text>
<text x="232" y="1587.9" textLength="30.79" lengthAdjust="spacingAndGlyphs">10</text>
<text x="287.87" y="1587.9" textLength="14.1" lengthAdjust="spacingAndGlyphs">1</text>
<text x="343.74" y="1587.9" textLength="16.69" lengthAdjust="spacingAndGlyphs">6</text>
<text x="399.61" y="1587.9" textLength="16.69" lengthAdjust="spacingAndGlyphs">8</text>
<text x="455.48" y="1587.9" textLength="16.69" lengthAdjust="spacingAndGlyphs">4</text>
<text x="511.35" y="1587.9" textLength="16.69" lengthAdjust="spacingAndGlyphs">5</text>
<text x="656" y="1587.9" textLength="33.37" lengthAdjust="spacingAndGlyphs">84</text>
<text x="777" y="1587.9" textLength="33.37" lengthAdjust="spacingAndGlyphs">29</text>
<text x="898" y="1587.9" textLength="61.87" lengthAdjust="spacingAndGlyphs">2:1:2</text>
<text x="1019" y="1587.9" textLength="40.57" lengthAdjust="spacingAndGlyphs">2:3</text>
</g>
<g stroke="#f5f5f5">
<text x="73" y="1641.3" textLength="83.43" lengthAdjust="spacingAndGlyphs">26033</text>
<text x="174" y="1641.3" textLength="14.1" lengthAdjust="spacingAndGlyphs">1</text>
<text x="232" y="1641.3" textLength="28.2" lengthAdjust="spacingAndGlyphs">11</text>
<text x="287.87" y="1641.3" textLength="16.69" lengthAdjust="spacingAndGlyphs">2</text>
<text x="343.74" y="1641.3" textLength="16.69" lengthAdjust="spacingAndGlyphs">7</text>
<text x="399.61" y="1641.3" textLength="16.69" lengthAdjust="spacingAndGlyphs">9</text>
<text x="511.35" y="1641.3" textLength="16.69" lengthAdjust="spacingAndGlyphs">6</text>
<text x="567.22" y="1641.3" textLength="14.1" lengthAdjust="spacingAndGlyphs">1</text>
<text x="656" y="1641.3" textLength="33.37" lengthAdjust="spacingAndGlyphs">42</text>
<text x="777" y="1641.3" textLength="30.79" lengthAdjust="spacingAndGlyphs">15</text>
<text x="898" y="1641.3" textLength="61.87" lengthAdjust="spacingAndGlyphs">4:1:0</text>
<text x="1019" y="1641.3" textLength="37.99" lengthAdjust="spacingAndGlyphs">4:1</text>
</g>
<g stroke="#ffffff">
<text x="73" y="1694.7" textLength="83.43" lengthAdjust="spacingAndGlyphs">26034</text>
<text x="174" y="1694.7" textLength="16.69" lengthAdjust="spacingAndGlyphs">3</text>
<text x="232" y="1694.7" textLength="30.79" lengthAdjust="spacingAndGlyphs">12</text>
<text x="287.87" y="1694.7" textLength="16.69" lengthAdjust="spacingAndGlyphs">3</text>
<text x="399.61" y="1694.7" textLength="30.79" lengthAdjust="spacingAndGlyphs">10</text>
<text x="455.48" y="1694.7" textLength="14.1" lengthAdjust="spacingAndGlyphs">1</text>
<text x="567.22" y="1694.7" textLength="16.69" lengthAdjust="spacingAndGlyphs">2</text>
<text x="656" y="1694.7" textLength="44.89" lengthAdjust="spacingAndGlyphs">101</text>
<text x="777" y="1694.7" textLength="30.79" lengthAdjust="spacingAndGlyphs">16</text>
<text x="898" y="1694.7" textLength="64.46" lengthAdjust="spacingAndGlyphs">2:0:3</text>
<text x="1019" y="1694.7" textLength="40.57" lengthAdjust="spacingAndGlyphs">3:2</text>
</g>
<g stroke="#f5f5f5">
<text x="73" y="1748.1" textLength="83.43" lengthAdjust="spacingAndGlyphs">26035</text>
<text x="174" y="1748.1" textLength="16.69" lengthAdjust="spacingAndGlyphs">6</text>
<text x="232" y="1748.1" textLength="30.79" lengthAdjust="spacingAndGlyphs">13</text>
<text x="287.87" y="1748.1" textLength="16.69" lengthAdjust="spacingAndGlyphs">4</text>
<text x="399.61" y="1748.1" textLength="28.2" lengthAdjust="spacingAndGlyphs">11</text>
<text x="455.48" y="1748.1" textLength="16.69" lengthAdjust="spacingAndGlyphs">2</text>
<text x="511.35" y="1748.1" textLength="14.1" lengthAdjust="spacingAndGlyphs">1</text>
<text x="656" y="1748.1" textLength="44.89" lengthAdjust="spacingAndGlyphs">121</text>
<text x="777" y="1748.1" textLength="33.37" lengthAdjust="spacingAndGlyphs">32</text>
<text x="898" y="1748.1" textLength="59.29" lengthAdjust="spacingAndGlyphs">1:1:3</text>
<text x="1019" y="1748.1" textLength="37.99" lengthAdjust="spacingAndGlyphs">1:4</text>
</g>
<g stroke="#ffffff">
<text x="73" y="1801.5" textLength="83.43" lengthAdjust="spacingAndGlyphs">26036</text>
<text x="174" y="1801.5" textLength="14.1" lengthAdjust="spacingAndGlyphs">1</text>
<text x="232" y="1801.5" textLength="30.79" lengthAdjust="spacingAndGlyphs">14</text>
<text x="287.87" y="1801.5" textLength="16.69" lengthAdjust="spacingAndGlyphs">5</text>
<text x="399.61" y="1801.5" textLength="30.79" lengthAdjust="spacingAndGlyphs">12</text>
<text x="455.48" y="1801.5" textLength="16.69" lengthAdjust="spacingAndGlyphs">3</text>
<text x="511.35" y="1801.5" textLength="16.69" lengthAdjust="spacingAndGlyphs">2</text>
<text x="567.22" y="1801.5" textLength="14.1" lengthAdjust="spacingAndGlyphs">1</text>
<text x="656" y="1801.5" textLength="33.37" lengthAdjust="spacingAndGlyphs">85</text>
<text x="777" y="1801.5" textLength="33.37" lengthAdjust="spacingAndGlyphs">28</text>
<text x="898" y="1801.5" textLength="61.87" lengthAdjust="spacingAndGlyphs">2:1:2</text>
<text x="1019" y="1801.5" textLength="37.99" lengthAdjust="spacingAndGlyphs">1:4</text>
</g>
<g stroke="#f5f5f5">
<text x="73" y="1854.9" textLength="83.43" lengthAdjust="spacingAndGlyphs">26037</text>
<text x="174" y="1854.9" textLength="16.69" lengthAdjust="spacingAndGlyphs">3</text>
<text x="287.87" y="1854.9" textLength="16.69" lengthAdjust="spacingAndGlyphs">6</text>
<text x="399.61" y="1854.9" textLength="30.79" lengthAdjust="spacingAndGlyphs">13</text>
<text x="455.48" y="1854.9" textLength="16.69" lengthAdjust="spacingAndGlyphs">4</text>
<text x="511.35" y="1854.9" textLength="16.69" lengthAdjust="spacingAndGlyphs">3</text>
<text x="567.22" y="1854.9" textLength="16.69" lengthAdjust="spacingAndGlyphs">2</text>
<text x="656" y="1854.9" textLength="33.37" lengthAdjust="spacingAndGlyphs">92</text>
<text x="777" y="1854.9" textLength="33.37" lengthAdjust="spacingAndGlyphs">25</text>
<text x="898" y="1854.9" textLength="61.87" lengthAdjust="spacingAndGlyphs">2:1:2</text>
<text x="1019" y="1854.9" textLength="40.57" lengthAdjust="spacingAndGlyphs">2:3</text>
</g>
<g stroke="#ffffff">
<text x="73" y="1908.3" textLength="83.43" lengthAdjust="spacingAndGlyphs">26038</text>
<text x="174" y="1908.3" textLength="16.69" lengthAdjust="spacingAndGlyphs">6</text>
<text x="343.74" y="1908.3" textLength="14.1" lengthAdjust="spacingAndGlyphs">1</text>
<text x="399.61" y="1908.3" textLength="30.79" lengthAdjust="spacingAndGlyphs">14</text>
<text x="455.48" y="1908.3" textLength="16.69" lengthAdjust="spacingAndGlyphs">5</text>
<text x="511.35" y="1908.3" textLength="16.69" lengthAdjust="spacingAndGlyphs">4</text>
<text x="567.22" y="1908.3" textLength="16.69" lengthAdjust="spacingAndGlyphs">3</text>
<text x="656" y="1908.3" textLength="44.89" lengthAdjust="spacingAndGlyphs">114</text>
<text x="777" y="1908.3" textLength="33.37" lengthAdjust="spacingAndGlyphs">27</text>
<text x="898" y="1908.3" textLength="61.87" lengthAdjust="spacingAndGlyphs">1:2:2</text>
<text x="1019" y="1908.3" textLength="37.99" lengthAdjust="spacingAndGlyphs">4:1</text>
</g>
<g stroke="#f5f5f5">
<text x="73" y="1961.7" textLength="83.43" lengthAdjust="spacingAndGlyphs">26039</text>
<text x="174" y="1961.7" textLength="14.1" lengthAdjust="spacingAndGlyphs">1</text>
<text x="287.87" y="1961.7" textLength="14.1" lengthAdjust="spacingAndGlyphs">1</text>
<text x="343.74" y="1961.7" textLength="16.69" lengthAdjust="spacingAndGlyphs">2</text>
<text x="455.48" y="1961.7" textLength="16.69" lengthAdjust="spacingAndGlyphs">6</text>
<text x="511.35" y="1961.7" textLength="16.69" lengthAdjust="spacingAndGlyphs">5</text>
<text x="567.22" y="1961.7" textLength="16.69" lengthAdjust="spacingAndGlyphs">4</text>
<text x="656" y="1961.7" textLength="33.37" lengthAdjust="spacingAndGlyphs">93</text>
<text x="777" y="1961.7" textLength="30.79" lengthAdjust="spacingAndGlyphs">18</text>
<text x="898" y="1961.7" textLength="61.87" lengthAdjust="spacingAndGlyphs">2:1:2</text>
<text x="1019" y="1961.7" textLength="40.57" lengthAdjust="spacingAndGlyphs">3:2</text>
</g>
</g>
<g font-size="32" text-anchor="middle">
<circle cx="399.61" cy="401.7" r="21.3" fill="#5b7fcc"/>
<text x="399.61" y="413.1" textLength="35.04" lengthAdjust="spacingAndGlyphs" fill="#fff">09</text>
<circle cx="455.48" cy="455.1" r="21.3" fill="#5b7fcc"/>
<text x="455.48" y="466.5" textLength="32.33" lengthAdjust="spacingAndGlyphs" fill="#fff">10</text>
<circle cx="232" cy="508.5" r="21.3" fill="#5b7fcc"/>
<text x="232" y="519.9" textLength="35.04" lengthAdjust="spacingAndGlyphs" fill="#fff">06</text>
<circle cx="232" cy="615.3" r="21.3" fill="#5b7fcc"/>
<text x="232" y="626.7" textLength="35.04" lengthAdjust="spacingAndGlyphs" fill="#fff">06</text>
<circle cx="511.35" cy="668.7" r="21.3" fill="#5b7fcc"/>
<text x="511.35" y="680.1" textLength="29.61" lengthAdjust="spacingAndGlyphs" fill="#fff">11</text>
<circle cx="232" cy="722.1" r="21.3" fill="#5b7fcc"/>
<text x="232" y="733.5" textLength="35.04" lengthAdjust="spacingAndGlyphs" fill="#fff">06</text>
<circle cx="287.87" cy="775.5" r="21.3" fill="#5b7fcc"/>
<text x="287.87" y="786.9" textLength="35.04" lengthAdjust="spacingAndGlyphs" fill="#fff">07</text>
<circle cx="567.22" cy="775.5" r="21.3" fill="#5b7fcc"/>
<text x="567.22" y="786.9" textLength="32.33" lengthAdjust="spacingAndGlyphs" fill="#fff">12</text>
<circle cx="567.22" cy="828.9" r="21.3" fill="#5b7fcc"/>
<text x="567.22" y="840.3" textLength="32.33" lengthAdjust="spacingAndGlyphs" fill="#fff">12</text>
<circle cx="567.22" cy="882.3" r="21.3" fill="#5b7fcc"/>
<text x="567.22" y="893.7" textLength="32.33" lengthAdjust="spacingAndGlyphs" fill="#fff">12</text>
<circle cx="455.48" cy="935.7" r="21.3" fill="#5b7fcc"/>
<text x="455.48" y="947.1" textLength="32.33" lengthAdjust="spacingAndGlyphs" fill="#fff">10</text>
<circle cx="567.22" cy="935.7" r="21.3" fill="#5b7fcc"/>
<text x="567.22" y="947.1" textLength="32.33" lengthAdjust="spacingAndGlyphs" fill="#fff">12</text>
<circle cx="232" cy="1042.5" r="21.3" fill="#5b7fcc"/>
<text x="232" y="1053.9" textLength="35.04" lengthAdjust="spacingAndGlyphs" fill="#fff">06</text>
<circle cx="343.74" cy="1095.9" r="21.3" fill="#5b7fcc"/>
<text x="343.74" y="1107.3" textLength="35.04" lengthAdjust="spacingAndGlyphs" fill="#fff">08</text>
<circle cx="399.61" cy="1149.3" r="21.3" fill="#5b7fcc"/>
<text x="399.61" y="1160.7" textLength="35.04" lengthAdjust="spacingAndGlyphs" fill="#fff">09</text>
<circle cx="567.22" cy="1149.3" r="21.3" fill="#5b7fcc"/>
<text x="567.22" y="1160.7" textLength="32.33" lengthAdjust="spacingAndGlyphs" fill="#fff">12</text>
<circle cx="287.87" cy="1202.7" r="21.3" fill="#5b7fcc"/>
<text x="287.87" y="1214.1" textLength="35.04" lengthAdjust="spacingAndGlyphs" fill="#fff">07</text>
<circle cx="343.74" cy="1256.1" r="21.3" fill="#5b7fcc"/>
<text x="343.74" y="1267.5" textLength="35.04" lengthAdjust="spacingAndGlyphs" fill="#fff">08</text>
<circle cx="511.35" cy="1309.5" r="21.3" fill="#5b7fcc"/>
<text x="511.35" y="1320.9" textLength="29.61" lengthAdjust="spacingAndGlyphs" fill="#fff">11</text>
<circle cx="455.48" cy="1362.9" r="21.3" fill="#5b7fcc"/>
<text x="455.48" y="1374.3" textLength="32.33" lengthAdjust="spacingAndGlyphs" fill="#fff">10</text>
<circle cx="287.87" cy="1416.3" r="21.3" fill="#5b7fcc"/>
<text x="287.87" y="1427.7" textLength="35.04" lengthAdjust="spacingAndGlyphs" fill="#fff">07</text>
<circle cx="567.22" cy="1469.7" r="21.3" fill="#5b7fcc"/>
<text x="567.22" y="1481.1" textLength="32.33" lengthAdjust="spacingAndGlyphs" fill="#fff">12</text>
<circle cx="287.87" cy="1523.1" r="21.3" fill="#5b7fcc"/>
<text x="287.87" y="1534.5" textLength="35.04" lengthAdjust="spacingAndGlyphs" fill="#fff">07</text>
<circle cx="567.22" cy="1576.5" r="21.3" fill="#5b7fcc"/>
<text x="567.22" y="1587.9" textLength="32.33" lengthAdjust="spacingAndGlyphs" fill="#fff">12</text>
<circle cx="455.48" cy="1629.9" r="21.3" fill="#5b7fcc"/>
<text x="455.48" y="1641.3" textLength="32.33" lengthAdjust="spacingAndGlyphs" fill="#fff">10</text>
<circle cx="343.74" cy="1683.3" r="21.3" fill="#5b7fcc"/>
<text x="343.74" y="1694.7" textLength="35.04" lengthAdjust="spacingAndGlyphs" fill="#fff">08</text>
<circle cx="511.35" cy="1683.3" r="21.3" fill="#5b7fcc"/>
<text x="511.35" y="1694.7" textLength="29.61" lengthAdjust="spacingAndGlyphs" fill="#fff">11</text>
<circle cx="343.74" cy="1736.7" r="21.3" fill="#5b7fcc"/>
<text x="343.74" y="1748.1" textLength="35.04" lengthAdjust="spacingAndGlyphs" fill="#fff">08</text>
<circle cx="567.22" cy="1736.7" r="21.3" fill="#5b7fcc"/>
<text x="567.22" y="1748.1" textLength="32.33" lengthAdjust="spacingAndGlyphs" fill="#fff">12</text>
<circle cx="343.74" cy="1790.1" r="21.3" fill="#5b7fcc"/>
<text x="343.74" y="1801.5" textLength="35.04" lengthAdjust="spacingAndGlyphs" fill="#fff">08</text>
<circle cx="232" cy="1843.5" r="21.3" fill="#5b7fcc"/>
<text x="232" y="1854.9" textLength="35.04" lengthAdjust="spacingAndGlyphs" fill="#fff">06</text>
<circle cx="343.74" cy="1843.5" r="21.3" fill="#5b7fcc"/>
<text x="343.74" y="1854.9" textLength="35.04" lengthAdjust="spacingAndGlyphs" fill="#fff">08</text>
<circle cx="232" cy="1896.9" r="21.3" fill="#5b7fcc"/>
<text x="232" y="1908.3" textLength="35.04" lengthAdjust="spacingAndGlyphs" fill="#fff">06</text>
<circle cx="287.87" cy="1896.9" r="21.3" fill="#5b7fcc"/>
<text x="287.87" y="1908.3" textLength="35.04" lengthAdjust="spacingAndGlyphs" fill="#fff">07</text>
<circle cx="232" cy="1950.3" r="21.3" fill="#5b7fcc"/>
<text x="232" y="1961.7" textLength="35.04" lengthAdjust="spacingAndGlyphs" fill="#fff">06</text>
<circle cx="399.61" cy="1950.3" r="21.3" fill="#5b7fcc"/>
<text x="399.61" y="1961.7" textLength="35.04" lengthAdjust="spacingAndGlyphs" fill="#fff">09</text>
</g>
<circle cx="63.5" cy="2003.7" r="16.8" fill="none" stroke="#eea0a6" stroke-width="2.1"/>
<text x="96" y="2013.7" font-size="28" fill="#eea0a6" style="font-family:'Liberation Sans', 'Noto Sans CJK SC', sans-serif">选号</text>
<text x="232" y="2015.1" textLength="33.37" lengthAdjust="spacingAndGlyphs" fill="#ec8f98" font-size="32" text-anchor="middle" stroke="#fdeee9" stroke-width="0.6">06</text>
<text x="287.87" y="2015.1" textLength="33.37" lengthAdjust="spacingAndGlyphs" fill="#ec8f98" font-size="32" text-anchor="middle" stroke="#fdeee9" stroke-width="0.6">07</text>
<text x="343.74" y="2015.1" textLength="33.37" lengthAdjust="spacingAndGlyphs" fill="#ec8f98" font-size="32" text-anchor="middle" stroke="#fdeee9" stroke-width="0.6">08</text>
<text x="399.61" y="2015.1" textLength="33.37" lengthAdjust="spacingAndGlyphs" fill="#ec8f98" font-size="32" text-anchor="middle" stroke="#fdeee9" stroke-width="0.6">09</text>
<text x="455.48" y="2015.1" textLength="30.79" lengthAdjust="spacingAndGlyphs" fill="#ec8f98" font-size="32" text-anchor="middle" stroke="#fdeee9" stroke-width="0.6">10</text>
<text x="511.35" y="2015.1" textLength="28.2" lengthAdjust="spacingAndGlyphs" fill="#ec8f98" font-size="32" text-anchor="middle" stroke="#fdeee9" stroke-width="0.6">11</text>
<text x="567.22" y="2015.1" textLength="30.79" lengthAdjust="spacingAndGlyphs" fill="#ec8f98" font-size="32" text-anchor="middle" stroke="#fdeee9" stroke-width="0.6">12</text>
<circle cx="63.5" cy="2057.15" r="16.8" fill="none" stroke="#eea0a6" stroke-width="2.1"/>
<text x="96" y="2067.15" font-size="28" fill="#eea0a6" style="font-family:'Liberation Sans', 'Noto Sans CJK SC', sans-serif">选号</text>
<text x="232" y="2068.55" textLength="33.37" lengthAdjust="spacingAndGlyphs" fill="#ec8f98" font-size="32" text-anchor="middle" stroke="#fdeee9" stroke-width="0.6">06</text>
<text x="287.87" y="2068.55" textLength="33.37" lengthAdjust="spacingAndGlyphs" fill="#ec8f98" font-size="32" text-anchor="middle" stroke="#fdeee9" stroke-width="0.6">07</text>
<text x="343.74" y="2068.55" textLength="33.37" lengthAdjust="spacingAndGlyphs" fill="#ec8f98" font-size="32" text-anchor="middle" stroke="#fdeee9" stroke-width="0.6">08</text>
<text x="399.61" y="2068.55" textLength="33.37" lengthAdjust="spacingAndGlyphs" fill="#ec8f98" font-size="32" text-anchor="middle" stroke="#fdeee9" stroke-width="0.6">09</text>
<text x="455.48" y="2068.55" textLength="30.79" lengthAdjust="spacingAndGlyphs" fill="#ec8f98" font-size="32" text-anchor="middle" stroke="#fdeee9" stroke-width="0.6">10</text>
<text x="511.35" y="2068.55" textLength="28.2" lengthAdjust="spacingAndGlyphs" fill="#ec8f98" font-size="32" text-anchor="middle" stroke="#fdeee9" stroke-width="0.6">11</text>
<text x="567.22" y="2068.55" textLength="30.79" lengthAdjust="spacingAndGlyphs" fill="#ec8f98" font-size="32" text-anchor="middle" stroke="#fdeee9" stroke-width="0.6">12</text>
<circle cx="63.5" cy="2110.6" r="16.8" fill="none" stroke="#eea0a6" stroke-width="2.1"/>
<text x="96" y="2120.6" font-size="28" fill="#eea0a6" style="font-family:'Liberation Sans', 'Noto Sans CJK SC', sans-serif">选号</text>
<text x="232" y="2122" textLength="33.37" lengthAdjust="spacingAndGlyphs" fill="#ec8f98" font-size="32" text-anchor="middle" stroke="#fdeee9" stroke-width="0.6">06</text>
<text x="287.87" y="2122" textLength="33.37" lengthAdjust="spacingAndGlyphs" fill="#ec8f98" font-size="32" text-anchor="middle" stroke="#fdeee9" stroke-width="0.6">07</text>
<text x="343.74" y="2122" textLength="33.37" lengthAdjust="spacingAndGlyphs" fill="#ec8f98" font-size="32" text-anchor="middle" stroke="#fdeee9" stroke-width="0.6">08</text>
<text x="399.61" y="2122" textLength="33.37" lengthAdjust="spacingAndGlyphs" fill="#ec8f98" font-size="32" text-anchor="middle" stroke="#fdeee9" stroke-width="0.6">09</text>
<text x="455.48" y="2122" textLength="30.79" lengthAdjust="spacingAndGlyphs" fill="#ec8f98" font-size="32" text-anchor="middle" stroke="#fdeee9" stroke-width="0.6">10</text>
<text x="511.35" y="2122" textLength="28.2" lengthAdjust="spacingAndGlyphs" fill="#ec8f98" font-size="32" text-anchor="middle" stroke="#fdeee9" stroke-width="0.6">11</text>
<text x="567.22" y="2122" textLength="30.79" lengthAdjust="spacingAndGlyphs" fill="#ec8f98" font-size="32" text-anchor="middle" stroke="#fdeee9" stroke-width="0.6">12</text>
<g fill="none" stroke="#cf4d55" stroke-width="2.6">
<rect x="974.7" y="540.3" width="83.6" height="98.6"/>
<rect x="985.1" y="644.7" width="83.2" height="96.3"/>
<rect x="864.4" y="818.5" width="19.3" height="91.2"/>
<rect x="980.6" y="1074.9" width="82.2" height="95.4"/>
<rect x="991.5" y="1182" width="71.3" height="100.4"/>
<rect x="908.9" y="1186.5" width="28.3" height="147.2"/>
<rect x="859.9" y="1397.2" width="22.8" height="90.4"/>
<rect x="911.2" y="1399.3" width="20.1" height="251.6"/>
<rect x="858.1" y="1664.9" width="30.1" height="94"/>
<rect x="979.2" y="1666.3" width="75.9" height="88.1"/>
<rect x="857" y="1777.6" width="31.9" height="90"/>
<rect x="902.9" y="1779.7" width="32.7" height="212.6"/>
<rect x="860.4" y="1934.5" width="78.8" height="85.5"/>
<rect x="975" y="1925.9" width="83.7" height="87.6"/>
</g>
<text x="66" y="2222" font-size="40" fill="#333" style="font-family:'Liberation Sans', 'Noto Sans CJK SC', sans-serif">30<tspan x="114.5" font-size="37" font-weight="350">期</tspan></text>
<path d="M171,2199 L186,2213.6 L201,2199" fill="none" stroke="#555" stroke-width="1.7" stroke-linecap="round" stroke-linejoin="round"/>
<rect x="269.2" y="2190.5" width="1.6" height="35" fill="#e3e3e3"/>
<rect x="539.2" y="2190.5" width="1.6" height="35" fill="#e3e3e3"/>
<rect x="809.2" y="2190.5" width="1.6" height="35" fill="#e3e3e3"/>
<g font-size="40" font-weight="350" fill="#d84b53" style="font-family:'Liberation Sans', 'Noto Sans CJK SC', sans-serif">
<text x="325" y="2222.5">开启画线</text>
<text x="588" y="2222.5" textLength="174" lengthAdjust="spacingAndGlyphs">选号单(0)</text>
<text x="864" y="2222.5">精杀优选</text>
</g>
<path d="M124,2273 L365,2273 L365,2280 L121,2280 Q121,2273 124,2273 Z" fill="#bdbdbd"/>
<rect x="371" y="2273" width="337" height="7" fill="#bdbdbd"/>
<path d="M714.5,2273 L955,2273 Q958,2273 958,2280 L714.5,2280 Z" fill="#bdbdbd"/>
<g>
<g transform="translate(-253.4,-9) rotate(-28)">
<rect x="-22" y="-17" width="44" height="34" rx="10" fill="#ef6a78" fill-opacity="0.085"/>
<ellipse cx="-5" cy="3" rx="10" ry="8" fill="#ffffff" fill-opacity="0.45"/>
<ellipse cx="-5" cy="3" rx="7" ry="5.5" fill="#9fd8f0" fill-opacity="0.10"/>
<text x="32.4" y="15" font-size="38" font-weight="bold" letter-spacing="3.5" fill="#000" fill-opacity="0.055" style="font-family:'Liberation Sans', 'Noto Sans CJK SC', sans-serif">彩虹多多</text>
</g>
<g transform="translate(79.5,112.6) rotate(-28)">
<rect x="-22" y="-17" width="44" height="34" rx="10" fill="#ef6a78" fill-opacity="0.085"/>
<ellipse cx="-5" cy="3" rx="10" ry="8" fill="#ffffff" fill-opacity="0.45"/>
<ellipse cx="-5" cy="3" rx="7" ry="5.5" fill="#9fd8f0" fill-opacity="0.10"/>
<text x="32.4" y="15" font-size="38" font-weight="bold" letter-spacing="3.5" fill="#000" fill-opacity="0.055" style="font-family:'Liberation Sans', 'Noto Sans CJK SC', sans-serif">彩虹多多</text>
</g>
<g transform="translate(20.6,463.6) rotate(-28)">
<rect x="-22" y="-17" width="44" height="34" rx="10" fill="#ef6a78" fill-opacity="0.085"/>
<ellipse cx="-5" cy="3" rx="10" ry="8" fill="#ffffff" fill-opacity="0.45"/>
<ellipse cx="-5" cy="3" rx="7" ry="5.5" fill="#9fd8f0" fill-opacity="0.10"/>
<text x="32.4" y="15" font-size="38" font-weight="bold" letter-spacing="3.5" fill="#000" fill-opacity="0.055" style="font-family:'Liberation Sans', 'Noto Sans CJK SC', sans-serif">彩虹多多</text>
</g>
<g transform="translate(-38.3,814.6) rotate(-28)">
<rect x="-22" y="-17" width="44" height="34" rx="10" fill="#ef6a78" fill-opacity="0.085"/>
<ellipse cx="-5" cy="3" rx="10" ry="8" fill="#ffffff" fill-opacity="0.45"/>
<ellipse cx="-5" cy="3" rx="7" ry="5.5" fill="#9fd8f0" fill-opacity="0.10"/>
<text x="32.4" y="15" font-size="38" font-weight="bold" letter-spacing="3.5" fill="#000" fill-opacity="0.055" style="font-family:'Liberation Sans', 'Noto Sans CJK SC', sans-serif">彩虹多多</text>
</g>
<g transform="translate(-97.2,1165.6) rotate(-28)">
<rect x="-22" y="-17" width="44" height="34" rx="10" fill="#ef6a78" fill-opacity="0.085"/>
<ellipse cx="-5" cy="3" rx="10" ry="8" fill="#ffffff" fill-opacity="0.45"/>
<ellipse cx="-5" cy="3" rx="7" ry="5.5" fill="#9fd8f0" fill-opacity="0.10"/>
<text x="32.4" y="15" font-size="38" font-weight="bold" letter-spacing="3.5" fill="#000" fill-opacity="0.055" style="font-family:'Liberation Sans', 'Noto Sans CJK SC', sans-serif">彩虹多多</text>
</g>
<g transform="translate(-156.1,1516.6) rotate(-28)">
<rect x="-22" y="-17" width="44" height="34" rx="10" fill="#ef6a78" fill-opacity="0.085"/>
<ellipse cx="-5" cy="3" rx="10" ry="8" fill="#ffffff" fill-opacity="0.45"/>
<ellipse cx="-5" cy="3" rx="7" ry="5.5" fill="#9fd8f0" fill-opacity="0.10"/>
<text x="32.4" y="15" font-size="38" font-weight="bold" letter-spacing="3.5" fill="#000" fill-opacity="0.055" style="font-family:'Liberation Sans', 'Noto Sans CJK SC', sans-serif">彩虹多多</text>
</g>
<g transform="translate(-215,1867.6) rotate(-28)">
<rect x="-22" y="-17" width="44" height="34" rx="10" fill="#ef6a78" fill-opacity="0.085"/>
<ellipse cx="-5" cy="3" rx="10" ry="8" fill="#ffffff" fill-opacity="0.45"/>
<ellipse cx="-5" cy="3" rx="7" ry="5.5" fill="#9fd8f0" fill-opacity="0.10"/>
<text x="32.4" y="15" font-size="38" font-weight="bold" letter-spacing="3.5" fill="#000" fill-opacity="0.055" style="font-family:'Liberation Sans', 'Noto Sans CJK SC', sans-serif">彩虹多多</text>
</g>
<g transform="translate(412.4,234.2) rotate(-28)">
<rect x="-22" y="-17" width="44" height="34" rx="10" fill="#ef6a78" fill-opacity="0.085"/>
<ellipse cx="-5" cy="3" rx="10" ry="8" fill="#ffffff" fill-opacity="0.45"/>
<ellipse cx="-5" cy="3" rx="7" ry="5.5" fill="#9fd8f0" fill-opacity="0.10"/>
<text x="32.4" y="15" font-size="38" font-weight="bold" letter-spacing="3.5" fill="#000" fill-opacity="0.055" style="font-family:'Liberation Sans', 'Noto Sans CJK SC', sans-serif">彩虹多多</text>
</g>
<g transform="translate(353.5,585.2) rotate(-28)">
<rect x="-22" y="-17" width="44" height="34" rx="10" fill="#ef6a78" fill-opacity="0.085"/>
<ellipse cx="-5" cy="3" rx="10" ry="8" fill="#ffffff" fill-opacity="0.45"/>
<ellipse cx="-5" cy="3" rx="7" ry="5.5" fill="#9fd8f0" fill-opacity="0.10"/>
<text x="32.4" y="15" font-size="38" font-weight="bold" letter-spacing="3.5" fill="#000" fill-opacity="0.055" style="font-family:'Liberation Sans', 'Noto Sans CJK SC', sans-serif">彩虹多多</text>
</g>
<g transform="translate(294.6,936.2) rotate(-28)">
<rect x="-22" y="-17" width="44" height="34" rx="10" fill="#ef6a78" fill-opacity="0.085"/>
<ellipse cx="-5" cy="3" rx="10" ry="8" fill="#ffffff" fill-opacity="0.45"/>
<ellipse cx="-5" cy="3" rx="7" ry="5.5" fill="#9fd8f0" fill-opacity="0.10"/>
<text x="32.4" y="15" font-size="38" font-weight="bold" letter-spacing="3.5" fill="#000" fill-opacity="0.055" style="font-family:'Liberation Sans', 'Noto Sans CJK SC', sans-serif">彩虹多多</text>
</g>
<g transform="translate(235.7,1287.2) rotate(-28)">
<rect x="-22" y="-17" width="44" height="34" rx="10" fill="#ef6a78" fill-opacity="0.085"/>
<ellipse cx="-5" cy="3" rx="10" ry="8" fill="#ffffff" fill-opacity="0.45"/>
<ellipse cx="-5" cy="3" rx="7" ry="5.5" fill="#9fd8f0" fill-opacity="0.10"/>
<text x="32.4" y="15" font-size="38" font-weight="bold" letter-spacing="3.5" fill="#000" fill-opacity="0.055" style="font-family:'Liberation Sans', 'Noto Sans CJK SC', sans-serif">彩虹多多</text>
</g>
<g transform="translate(176.8,1638.2) rotate(-28)">
<rect x="-22" y="-17" width="44" height="34" rx="10" fill="#ef6a78" fill-opacity="0.085"/>
<ellipse cx="-5" cy="3" rx="10" ry="8" fill="#ffffff" fill-opacity="0.45"/>
<ellipse cx="-5" cy="3" rx="7" ry="5.5" fill="#9fd8f0" fill-opacity="0.10"/>
<text x="32.4" y="15" font-size="38" font-weight="bold" letter-spacing="3.5" fill="#000" fill-opacity="0.055" style="font-family:'Liberation Sans', 'Noto Sans CJK SC', sans-serif">彩虹多多</text>
</g>
<g transform="translate(117.9,1989.2) rotate(-28)">
<rect x="-22" y="-17" width="44" height="34" rx="10" fill="#ef6a78" fill-opacity="0.085"/>
<ellipse cx="-5" cy="3" rx="10" ry="8" fill="#ffffff" fill-opacity="0.45"/>
<ellipse cx="-5" cy="3" rx="7" ry="5.5" fill="#9fd8f0" fill-opacity="0.10"/>
<text x="32.4" y="15" font-size="38" font-weight="bold" letter-spacing="3.5" fill="#000" fill-opacity="0.055" style="font-family:'Liberation Sans', 'Noto Sans CJK SC', sans-serif">彩虹多多</text>
</g>
<g transform="translate(59,2340.2) rotate(-28)">
<rect x="-22" y="-17" width="44" height="34" rx="10" fill="#ef6a78" fill-opacity="0.085"/>
<ellipse cx="-5" cy="3" rx="10" ry="8" fill="#ffffff" fill-opacity="0.45"/>
<ellipse cx="-5" cy="3" rx="7" ry="5.5" fill="#9fd8f0" fill-opacity="0.10"/>
<text x="32.4" y="15" font-size="38" font-weight="bold" letter-spacing="3.5" fill="#000" fill-opacity="0.055" style="font-family:'Liberation Sans', 'Noto Sans CJK SC', sans-serif">彩虹多多</text>
</g>
<g transform="translate(804.2,4.8) rotate(-28)">
<rect x="-22" y="-17" width="44" height="34" rx="10" fill="#ef6a78" fill-opacity="0.085"/>
<ellipse cx="-5" cy="3" rx="10" ry="8" fill="#ffffff" fill-opacity="0.45"/>
<ellipse cx="-5" cy="3" rx="7" ry="5.5" fill="#9fd8f0" fill-opacity="0.10"/>
<text x="32.4" y="15" font-size="38" font-weight="bold" letter-spacing="3.5" fill="#000" fill-opacity="0.055" style="font-family:'Liberation Sans', 'Noto Sans CJK SC', sans-serif">彩虹多多</text>
</g>
<g transform="translate(745.3,355.8) rotate(-28)">
<rect x="-22" y="-17" width="44" height="34" rx="10" fill="#ef6a78" fill-opacity="0.085"/>
<ellipse cx="-5" cy="3" rx="10" ry="8" fill="#ffffff" fill-opacity="0.45"/>
<ellipse cx="-5" cy="3" rx="7" ry="5.5" fill="#9fd8f0" fill-opacity="0.10"/>
<text x="32.4" y="15" font-size="38" font-weight="bold" letter-spacing="3.5" fill="#000" fill-opacity="0.055" style="font-family:'Liberation Sans', 'Noto Sans CJK SC', sans-serif">彩虹多多</text>
</g>
<g transform="translate(686.4,706.8) rotate(-28)">
<rect x="-22" y="-17" width="44" height="34" rx="10" fill="#ef6a78" fill-opacity="0.085"/>
<ellipse cx="-5" cy="3" rx="10" ry="8" fill="#ffffff" fill-opacity="0.45"/>
<ellipse cx="-5" cy="3" rx="7" ry="5.5" fill="#9fd8f0" fill-opacity="0.10"/>
<text x="32.4" y="15" font-size="38" font-weight="bold" letter-spacing="3.5" fill="#000" fill-opacity="0.055" style="font-family:'Liberation Sans', 'Noto Sans CJK SC', sans-serif">彩虹多多</text>
</g>
<g transform="translate(627.5,1057.8) rotate(-28)">
<rect x="-22" y="-17" width="44" height="34" rx="10" fill="#ef6a78" fill-opacity="0.085"/>
<ellipse cx="-5" cy="3" rx="10" ry="8" fill="#ffffff" fill-opacity="0.45"/>
<ellipse cx="-5" cy="3" rx="7" ry="5.5" fill="#9fd8f0" fill-opacity="0.10"/>
<text x="32.4" y="15" font-size="38" font-weight="bold" letter-spacing="3.5" fill="#000" fill-opacity="0.055" style="font-family:'Liberation Sans', 'Noto Sans CJK SC', sans-serif">彩虹多多</text>
</g>
<g transform="translate(568.6,1408.8) rotate(-28)">
<rect x="-22" y="-17" width="44" height="34" rx="10" fill="#ef6a78" fill-opacity="0.085"/>
<ellipse cx="-5" cy="3" rx="10" ry="8" fill="#ffffff" fill-opacity="0.45"/>
<ellipse cx="-5" cy="3" rx="7" ry="5.5" fill="#9fd8f0" fill-opacity="0.10"/>
<text x="32.4" y="15" font-size="38" font-weight="bold" letter-spacing="3.5" fill="#000" fill-opacity="0.055" style="font-family:'Liberation Sans', 'Noto Sans CJK SC', sans-serif">彩虹多多</text>
</g>
<g transform="translate(509.7,1759.8) rotate(-28)">
<rect x="-22" y="-17" width="44" height="34" rx="10" fill="#ef6a78" fill-opacity="0.085"/>
<ellipse cx="-5" cy="3" rx="10" ry="8" fill="#ffffff" fill-opacity="0.45"/>
<ellipse cx="-5" cy="3" rx="7" ry="5.5" fill="#9fd8f0" fill-opacity="0.10"/>
<text x="32.4" y="15" font-size="38" font-weight="bold" letter-spacing="3.5" fill="#000" fill-opacity="0.055" style="font-family:'Liberation Sans', 'Noto Sans CJK SC', sans-serif">彩虹多多</text>
</g>
<g transform="translate(450.8,2110.8) rotate(-28)">
<rect x="-22" y="-17" width="44" height="34" rx="10" fill="#ef6a78" fill-opacity="0.085"/>
<ellipse cx="-5" cy="3" rx="10" ry="8" fill="#ffffff" fill-opacity="0.45"/>
<ellipse cx="-5" cy="3" rx="7" ry="5.5" fill="#9fd8f0" fill-opacity="0.10"/>
<text x="32.4" y="15" font-size="38" font-weight="bold" letter-spacing="3.5" fill="#000" fill-opacity="0.055" style="font-family:'Liberation Sans', 'Noto Sans CJK SC', sans-serif">彩虹多多</text>
</g>
<g transform="translate(1078.2,477.4) rotate(-28)">
<rect x="-22" y="-17" width="44" height="34" rx="10" fill="#ef6a78" fill-opacity="0.085"/>
<ellipse cx="-5" cy="3" rx="10" ry="8" fill="#ffffff" fill-opacity="0.45"/>
<ellipse cx="-5" cy="3" rx="7" ry="5.5" fill="#9fd8f0" fill-opacity="0.10"/>
<text x="32.4" y="15" font-size="38" font-weight="bold" letter-spacing="3.5" fill="#000" fill-opacity="0.055" style="font-family:'Liberation Sans', 'Noto Sans CJK SC', sans-serif">彩虹多多</text>
</g>
<g transform="translate(1019.3,828.4) rotate(-28)">
<rect x="-22" y="-17" width="44" height="34" rx="10" fill="#ef6a78" fill-opacity="0.085"/>
<ellipse cx="-5" cy="3" rx="10" ry="8" fill="#ffffff" fill-opacity="0.45"/>
<ellipse cx="-5" cy="3" rx="7" ry="5.5" fill="#9fd8f0" fill-opacity="0.10"/>
<text x="32.4" y="15" font-size="38" font-weight="bold" letter-spacing="3.5" fill="#000" fill-opacity="0.055" style="font-family:'Liberation Sans', 'Noto Sans CJK SC', sans-serif">彩虹多多</text>
</g>
<g transform="translate(960.4,1179.4) rotate(-28)">
<rect x="-22" y="-17" width="44" height="34" rx="10" fill="#ef6a78" fill-opacity="0.085"/>
<ellipse cx="-5" cy="3" rx="10" ry="8" fill="#ffffff" fill-opacity="0.45"/>
<ellipse cx="-5" cy="3" rx="7" ry="5.5" fill="#9fd8f0" fill-opacity="0.10"/>
<text x="32.4" y="15" font-size="38" font-weight="bold" letter-spacing="3.5" fill="#000" fill-opacity="0.055" style="font-family:'Liberation Sans', 'Noto Sans CJK SC', sans-serif">彩虹多多</text>
</g>
<g transform="translate(901.5,1530.4) rotate(-28)">
<rect x="-22" y="-17" width="44" height="34" rx="10" fill="#ef6a78" fill-opacity="0.085"/>
<ellipse cx="-5" cy="3" rx="10" ry="8" fill="#ffffff" fill-opacity="0.45"/>
<ellipse cx="-5" cy="3" rx="7" ry="5.5" fill="#9fd8f0" fill-opacity="0.10"/>
<text x="32.4" y="15" font-size="38" font-weight="bold" letter-spacing="3.5" fill="#000" fill-opacity="0.055" style="font-family:'Liberation Sans', 'Noto Sans CJK SC', sans-serif">彩虹多多</text>
</g>
<g transform="translate(842.6,1881.4) rotate(-28)">
<rect x="-22" y="-17" width="44" height="34" rx="10" fill="#ef6a78" fill-opacity="0.085"/>
<ellipse cx="-5" cy="3" rx="10" ry="8" fill="#ffffff" fill-opacity="0.45"/>
<ellipse cx="-5" cy="3" rx="7" ry="5.5" fill="#9fd8f0" fill-opacity="0.10"/>
<text x="32.4" y="15" font-size="38" font-weight="bold" letter-spacing="3.5" fill="#000" fill-opacity="0.055" style="font-family:'Liberation Sans', 'Noto Sans CJK SC', sans-serif">彩虹多多</text>
</g>
<g transform="translate(783.7,2232.4) rotate(-28)">
<rect x="-22" y="-17" width="44" height="34" rx="10" fill="#ef6a78" fill-opacity="0.085"/>
<ellipse cx="-5" cy="3" rx="10" ry="8" fill="#ffffff" fill-opacity="0.45"/>
<ellipse cx="-5" cy="3" rx="7" ry="5.5" fill="#9fd8f0" fill-opacity="0.10"/>
<text x="32.4" y="15" font-size="38" font-weight="bold" letter-spacing="3.5" fill="#000" fill-opacity="0.055" style="font-family:'Liberation Sans', 'Noto Sans CJK SC', sans-serif">彩虹多多</text>
</g>
</g>
</svg></body></html>
